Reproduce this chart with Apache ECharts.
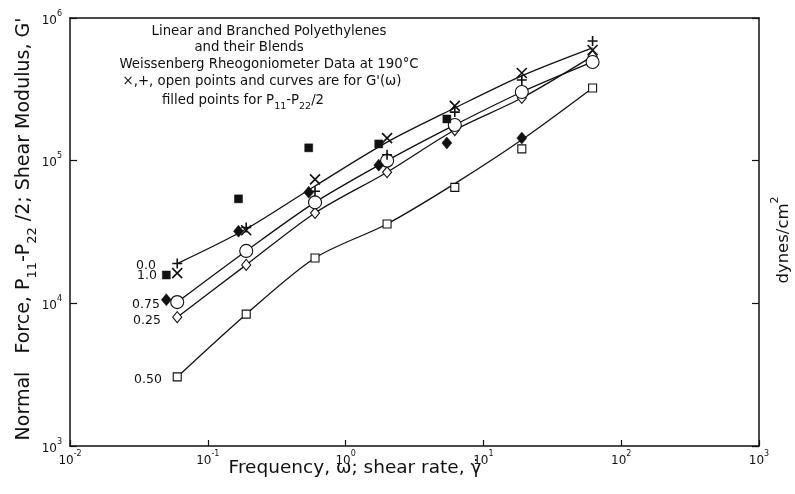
<!DOCTYPE html>
<html><head><meta charset="utf-8">
<script src="https://cdn.jsdelivr.net/npm/echarts@6/dist/echarts.min.js"></script>
<style>html,body{margin:0;padding:0;background:#fff}#c{width:795px;height:494px}</style>
</head><body><div id="c"></div>
<script>
// ---- data ----
const openX = [0.06, 0.19, 0.6, 2.0, 6.2, 19, 62];
const plus00 = [1.9e4, 3.4e4, 6.1e4, 1.1e5, 2.19e5, 3.68e5, 6.9e5];
const cross10 = [1.63e4, 3.25e4, 7.4e4, 1.44e5, 2.42e5, 4.12e5, 5.97e5];
const circle075 = [1.02e4, 2.33e4, 5.1e4, 1.0e5, 1.78e5, 3.03e5, 4.92e5];
const diamond025 = [8.0e3, 1.86e4, 4.3e4, 8.3e4, 1.64e5, 2.75e5, 5.4e5];
const square050 = [3.05e3, 8.4e3, 2.08e4, 3.6e4, 6.5e4, 1.21e5, 3.23e5];
const curveTop = [1.9e4, 3.32e4, 6.65e4, 1.35e5, 2.34e5, 3.93e5, 6.17e5];
const curveSquare = [3.05e3, 8.4e3, 2.08e4, 3.6e4, 6.9e4, 1.4e5, 3.23e5];
const filledSquareX = [0.05, 0.167, 0.54, 1.74, 5.43];
const filledSquare = [1.58e4, 5.4e4, 1.23e5, 1.31e5, 1.96e5];
const filledDiamondX = [0.05, 0.167, 0.54, 1.74, 5.43, 19];
const filledDiamond = [1.06e4, 3.2e4, 6.0e4, 9.3e4, 1.33e5, 1.44e5];
const xTickExp = [-2, -1, 0, 1, 2, 3];
const xTickLabels = ['-2', '-1', '0', '1', '2', '3'];
const yTickExp = [3, 4, 5, 6];
const yTickLabels = ['3', '4', '5', '6'];
const curveLabels = ['0.0', '1.0', '0.75', '0.25', '0.50'];
const noteLines = [
  '{n|Linear and Branched Polyethylenes}',
  '{n|and their Blends}',
  '{n|Weissenberg Rheogoniometer Data at 190°C}',
  '{n|×,+, open points and curves are for G\'(ω)}',
  '{n|filled points for P}{s|11}{n|-P}{s|22}{n|/2}'
];
const xTitle = 'Frequency, ω; shear rate, γ̇';
const yTitle = '{n|Normal   Force, P}{s|11}{n|-P}{s|22}{n| /2; Shear Modulus, G\'}';
const rightTitle = '{n|dynes/cm}{p|2}';

// ---- chart ----
const pts = (xs, ys) => xs.map((x, i) => [x, ys[i]]);
const fmt = (exps, labels) => v => {
  const e = Math.round(Math.log10(v));
  const i = exps.indexOf(e);
  return i >= 0 ? '{b|10}{s|' + labels[i] + '}' : '';
};
const tickRich = {
  b: { fontSize: 12, lineHeight: 17, verticalAlign: 'bottom', fontFamily: 'DejaVu Sans', color: '#111' },
  s: { fontSize: 8, lineHeight: 9, verticalAlign: 'top', fontFamily: 'DejaVu Sans', color: '#111' }
};
const lineSer = (data) => ({
  type: 'line', data, smooth: 0.3, showSymbol: false, z: 2, silent: true,
  lineStyle: { color: '#111', width: 1.3 }
});
const scat = (data, symbol, size, fill, bw) => ({
  type: 'scatter', data, symbol, symbolSize: size, z: 5, silent: true,
  itemStyle: { color: fill, borderColor: '#111', borderWidth: bw, opacity: 1 }
});
const SYM_X = 'path://M0,0L10,10M10,0L0,10';
const SYM_P = 'path://M5,0L5,10M0,5L10,5';
const noteRich = {
  n: { fontSize: 13.3, fontFamily: 'DejaVu Sans', lineHeight: 17, verticalAlign: 'top', color: '#111' },
  s: { fontSize: 9.5, fontFamily: 'DejaVu Sans', lineHeight: 10, verticalAlign: 'bottom', color: '#111' }
};
const noteCenters = [[269, 34], [249, 50], [269, 67], [262, 84], [243, 103]];
const labelPos = [[146, 266], [147, 276], [146, 305], [147, 321], [148, 380]];

const chart = echarts.init(document.getElementById('c'), null, { renderer: 'canvas' });
const axisCommon = {
  type: 'log', logBase: 10,
  axisLine: { show: true, lineStyle: { color: '#111', width: 1.5 } },
  splitLine: { show: false }, minorTick: { show: false }
};
chart.setOption({
  animation: false,
  backgroundColor: '#fff',
  grid: { left: 70, right: 36, top: 18, bottom: 48 },
  xAxis: [
    Object.assign({}, axisCommon, {
      min: 0.01, max: 1000, position: 'bottom',
      axisTick: { inside: true, length: 6, lineStyle: { color: '#111', width: 1.2 } },
      axisLabel: { formatter: fmt(xTickExp, xTickLabels), rich: tickRich, margin: 4 }
    }),
    Object.assign({}, axisCommon, {
      min: 0.01, max: 1000, position: 'top',
      axisTick: { show: false }, axisLabel: { show: false }
    })
  ],
  yAxis: [
    Object.assign({}, axisCommon, {
      min: 1000, max: 1e6, position: 'left',
      axisTick: { inside: true, length: 7, lineStyle: { color: '#111', width: 1.2 } },
      axisLabel: { formatter: fmt(yTickExp, yTickLabels), rich: tickRich, margin: 8 }
    }),
    Object.assign({}, axisCommon, {
      min: 1000, max: 1e6, position: 'right',
      axisTick: { inside: true, length: 7, lineStyle: { color: '#111', width: 1.2 } },
      axisLabel: { show: false }
    })
  ],
  series: [
    lineSer(pts(openX, curveTop)),
    lineSer(pts(openX, circle075)),
    lineSer(pts(openX, diamond025)),
    lineSer(pts(openX, curveSquare)),
    scat(pts(openX, square050), 'rect', 8, '#fff', 1.1),
    scat(pts(openX, diamond025), 'diamond', [9, 11], '#fff', 1.1),
    scat(pts(openX, circle075), 'circle', 13, '#fff', 1.1),
    scat(pts(filledDiamondX, filledDiamond), 'diamond', [10, 12], '#111', 0.5),
    scat(pts(filledSquareX, filledSquare), 'rect', 8, '#111', 0.5),
    scat(pts(openX, cross10), SYM_X, 10, 'none', 1.6),
    scat(pts(openX, plus00), SYM_P, 10, 'none', 1.6)
  ],
  graphic: [].concat(
    noteLines.map((t, i) => ({
      type: 'text', x: noteCenters[i][0], y: noteCenters[i][1], silent: true,
      style: { text: t, rich: noteRich, fill: '#111', align: 'center', verticalAlign: 'middle' }
    })),
    curveLabels.map((t, i) => ({
      type: 'text', x: labelPos[i][0], y: labelPos[i][1], silent: true,
      style: { text: t, font: '12.5px "DejaVu Sans"', fill: '#111', align: 'center', verticalAlign: 'middle' }
    })),
    [
      { type: 'text', x: 355, y: 468, silent: true,
        style: { text: xTitle, font: '18.5px "DejaVu Sans"', fill: '#111', align: 'center', verticalAlign: 'middle' } },
      { type: 'text', x: 27, y: 229, rotation: Math.PI / 2, silent: true,
        style: { text: yTitle, fill: '#111', align: 'center', verticalAlign: 'middle',
          rich: {
            n: { fontSize: 19, fontFamily: 'DejaVu Sans', lineHeight: 24, verticalAlign: 'top', color: '#111' },
            s: { fontSize: 13, fontFamily: 'DejaVu Sans', lineHeight: 13, verticalAlign: 'bottom', color: '#111' }
          } } },
      { type: 'text', x: 781, y: 240, rotation: Math.PI / 2, silent: true,
        style: { text: rightTitle, fill: '#111', align: 'center', verticalAlign: 'middle',
          rich: {
            n: { fontSize: 16.5, fontFamily: 'DejaVu Sans', lineHeight: 22, verticalAlign: 'bottom', color: '#111' },
            p: { fontSize: 11, fontFamily: 'DejaVu Sans', lineHeight: 12, verticalAlign: 'top', color: '#111' }
          } } }
    ]
  )
});
</script>
</body></html>
